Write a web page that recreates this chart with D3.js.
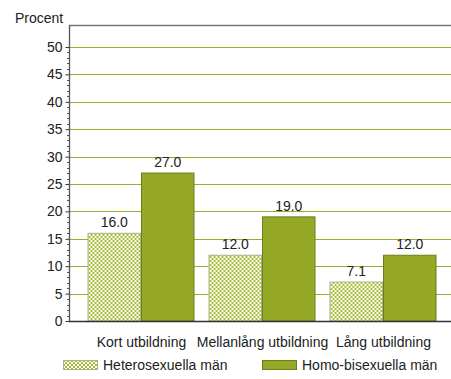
<!DOCTYPE html>
<html>
<head>
<meta charset="utf-8">
<script src="https://cdn.jsdelivr.net/npm/d3@7"></script>
<style>
  html, body { margin: 0; padding: 0; background: #fff; }
  svg { display: block; font-family: "Liberation Sans", Arial, sans-serif; }
</style>
</head>
<body>
<svg id="chart" width="451" height="379"></svg>
<script>
// Education level categories and the two groups compared
const categories = ["Kort utbildning", "Mellanlång utbildning", "Lång utbildning"];
const seriesNames = ["Heterosexuella män", "Homo-bisexuella män"];
const heteroValues = [16.0, 12.0, 7.1];
const homoValues = [27.0, 19.0, 12.0];
const yTicks = [0, 5, 10, 15, 20, 25, 30, 35, 40, 45, 50];
const yLabel = "Procent";

const svg = d3.select("#chart");
const plot = { left: 69, right: 451, top: 25, bottom: 321 };
const FS = 14;

const y = d3.scaleLinear().domain([0, 50]).range([plot.bottom, 47]);
const x = d3.scaleBand().domain(categories).range([80.5, 443.5]).padding(0);
const xs = d3.scaleBand().domain(seriesNames).range([7, 114]).padding(0);

// checkerboard fill for the first series
const defs = svg.append("defs");
const pat = defs.append("pattern")
  .attr("id", "checker").attr("patternUnits", "userSpaceOnUse")
  .attr("width", 4).attr("height", 4);
pat.append("rect").attr("width", 4).attr("height", 4).attr("fill", "#ffffff");
pat.append("rect").attr("x", 0).attr("y", 0).attr("width", 2).attr("height", 2).attr("fill", "#a6bd33");
pat.append("rect").attr("x", 2).attr("y", 2).attr("width", 2).attr("height", 2).attr("fill", "#a6bd33");

const fills = ["url(#checker)", "#96a926"];
const strokes = ["#a9b38a", "#6c7d1b"];

// horizontal grid lines
svg.append("g").selectAll("line").data(yTicks.filter(d => d > 0)).join("line")
  .attr("x1", plot.left).attr("x2", plot.right)
  .attr("y1", d => Math.round(y(d)) + 0.5).attr("y2", d => Math.round(y(d)) + 0.5)
  .attr("stroke", "#9aae28").attr("stroke-width", 1);

// top frame line
svg.append("line")
  .attr("x1", plot.left).attr("x2", plot.right)
  .attr("y1", plot.top + 0.5).attr("y2", plot.top + 0.5)
  .attr("stroke", "#777").attr("stroke-width", 1.6);

// bars
const data = categories.map((c, i) => ({ cat: c, vals: [heteroValues[i], homoValues[i]] }));
const groups = svg.append("g").selectAll("g").data(data).join("g")
  .attr("transform", d => `translate(${x(d.cat)},0)`);

groups.selectAll("rect").data(d => d.vals.map((v, j) => ({ v, j }))).join("rect")
  .attr("x", d => xs(seriesNames[d.j]) + 0.5)
  .attr("y", d => y(d.v))
  .attr("width", xs.bandwidth() - 1)
  .attr("height", d => plot.bottom - y(d.v))
  .attr("fill", d => fills[d.j])
  .attr("stroke", d => strokes[d.j])
  .attr("stroke-width", 1);

groups.selectAll("text").data(d => d.vals.map((v, j) => ({ v, j }))).join("text")
  .attr("x", d => xs(seriesNames[d.j]) + xs.bandwidth() / 2)
  .attr("y", d => y(d.v) - 6)
  .attr("text-anchor", "middle")
  .attr("font-size", FS).attr("fill", "#222")
  .text(d => d.v.toFixed(1));

// y axis with major and minor ticks
const yAxis = d3.axisLeft(y).tickValues(yTicks).tickSize(4).tickPadding(3).tickFormat(d3.format("d"));
const gy = svg.append("g").attr("transform", `translate(${plot.left + 0.5},0)`).call(yAxis);
gy.select(".domain").remove();
gy.selectAll("text").attr("font-size", FS).attr("fill", "#222").attr("font-family", "Liberation Sans, Arial, sans-serif");
gy.selectAll("line").attr("stroke", "#333");

const minor = d3.range(0, 51).filter(d => d % 5 !== 0);
svg.append("g").selectAll("line").data(minor).join("line")
  .attr("x1", plot.left - 2).attr("x2", plot.left)
  .attr("y1", d => Math.round(y(d)) + 0.5).attr("y2", d => Math.round(y(d)) + 0.5)
  .attr("stroke", "#555").attr("stroke-width", 1);

svg.append("line")
  .attr("x1", plot.left + 0.5).attr("x2", plot.left + 0.5)
  .attr("y1", plot.top).attr("y2", plot.bottom + 1)
  .attr("stroke", "#555").attr("stroke-width", 1.3);

// baseline
svg.append("line")
  .attr("x1", plot.left).attr("x2", plot.right)
  .attr("y1", plot.bottom + 0.5).attr("y2", plot.bottom + 0.5)
  .attr("stroke", "#333").attr("stroke-width", 1.6);

// category labels
svg.append("g").selectAll("text").data(categories).join("text")
  .attr("x", d => x(d) + x.bandwidth() / 2 + 0.5)
  .attr("y", 347)
  .attr("text-anchor", "middle")
  .attr("font-size", FS).attr("fill", "#222")
  .text(d => d);

// axis title
svg.append("text").attr("x", 15).attr("y", 23)
  .attr("font-size", FS).attr("fill", "#222").text(yLabel);

// legend
const legX = [63, 262];
const leg = svg.append("g").selectAll("g").data(seriesNames).join("g")
  .attr("transform", (d, i) => `translate(${legX[i]},360)`);
leg.append("rect").attr("x", 0.5).attr("y", 0.5).attr("width", 34).attr("height", 9)
  .attr("fill", (d, i) => fills[i]).attr("stroke", (d, i) => strokes[i]);
leg.append("text").attr("x", 40).attr("y", 10)
  .attr("font-size", FS).attr("fill", "#222").text(d => d);
</script>
</body>
</html>
